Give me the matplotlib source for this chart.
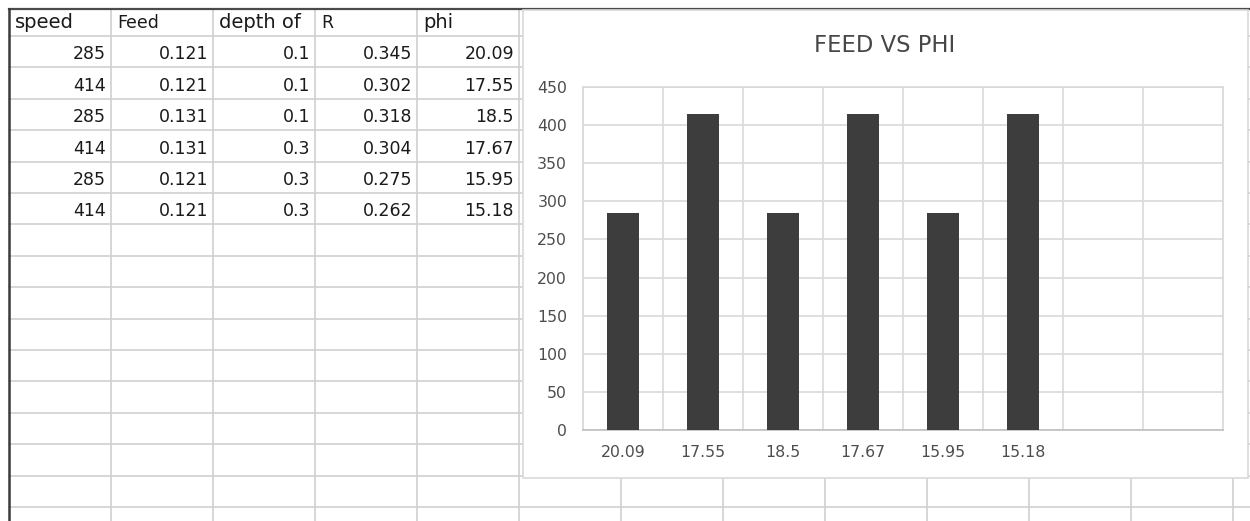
import matplotlib
matplotlib.use("Agg")
import matplotlib.pyplot as plt
from matplotlib.patches import Rectangle

# sheet data
headers = ["speed", "Feed", "depth of", "R", "phi"]
speed = [285, 414, 285, 414, 285, 414]
feed = [0.121, 0.121, 0.131, 0.131, 0.121, 0.121]
depth = [0.1, 0.1, 0.1, 0.3, 0.3, 0.3]
r_vals = [0.345, 0.302, 0.318, 0.304, 0.275, 0.262]
phi = [20.09, 17.55, 18.5, 17.67, 15.95, 15.18]

# chart: speed bars labelled by phi, 8 category slots in the Excel chart
n_slots = 8
chart_title = "FEED VS PHI"
y_ticks = list(range(0, 451, 50))

W, H = 1250, 521
fig = plt.figure(figsize=(W / 100, H / 100), dpi=100)
fig.patch.set_facecolor("white")

# spreadsheet background in pixel coordinates
bg = fig.add_axes([0, 0, 1, 1])
bg.set_xlim(0, W)
bg.set_ylim(H, 0)
bg.axis("off")

grid_c = "#d0d0d0"
col_x = [9 + 102 * k for k in range(13)]
row_y = [36 + 31.4 * k for k in range(16)]
for x in col_x[1:]:
    bg.plot([x, x], [9, H], color=grid_c, lw=1.2, zorder=1)
for y in row_y:
    bg.plot([9, W], [y, y], color=grid_c, lw=1.2, zorder=1)
bg.plot([9, W], [9, 9], color="#4a4a4a", lw=1.6, zorder=2)
bg.plot([9, 9], [9, H], color="#3a3a3a", lw=1.8, zorder=2)

# header row
for j, h in enumerate(headers):
    size = 12.5 if h in ("Feed", "R") else 14
    bg.text(col_x[j] + 6, row_y[0] - 8, h, ha="left", va="baseline",
            fontsize=size, color="#1a1a1a", zorder=3)

# data rows
columns = [speed, feed, depth, r_vals, phi]
for j, col in enumerate(columns):
    for i, v in enumerate(col):
        bg.text(col_x[j + 1] - 5, row_y[i + 1] - 8, f"{v:g}", ha="right",
                va="baseline", fontsize=12.5, color="#1a1a1a", zorder=3)

# chart object box
bg.add_patch(Rectangle((523, 10), 725, 468, facecolor="white",
                       edgecolor="#d9d9d9", lw=1.2, zorder=5))
fig.text(885 / W, 1 - 52 / H, chart_title, ha="center", va="baseline",
         fontsize=16.3, color="#474747")

ax = fig.add_axes([583 / W, 1 - 430 / H, 640 / W, 343 / H])
ax.set_zorder(10)
x = list(range(len(speed)))
ax.bar(x, speed, width=0.39, color="#3d3d3d", zorder=3)
ax.set_xlim(-0.5, n_slots - 0.5)
ax.set_ylim(0, 450)
ax.set_yticks(y_ticks)
ax.set_xticks(range(n_slots))
ax.set_xticklabels([f"{p:g}" for p in phi] + [""] * (n_slots - len(phi)))
ax.set_xticks([k - 0.5 for k in range(n_slots + 1)], minor=True)
ax.grid(axis="y", color="#d9d9d9", lw=1.2, zorder=0)
ax.grid(axis="x", which="minor", color="#d9d9d9", lw=1.2, zorder=0)
ax.tick_params(axis="both", which="both", length=0, labelsize=11.3,
               labelcolor="#4d4d4d")
ax.tick_params(axis="y", pad=11.5)
ax.tick_params(axis="x", pad=11)
for s in ax.spines.values():
    s.set_color("#d9d9d9")
    s.set_linewidth(1.2)
ax.spines["bottom"].set_color("#bfbfbf")

fig.savefig("out.png", dpi=100)
